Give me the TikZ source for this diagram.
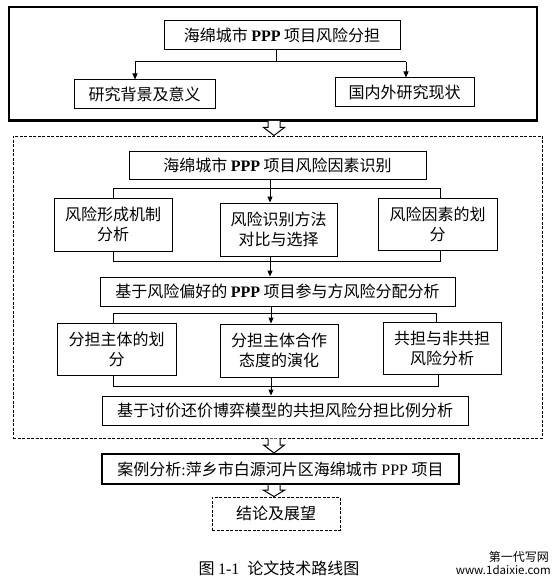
\documentclass[tikz,border=0pt]{standalone}
\usepackage{fontspec}
\setmainfont{Liberation Serif}
\newfontfamily\cjk{Noto Sans CJK SC}
\usetikzlibrary{arrows.meta,calc}
\newcommand\PPPb{{\rmfamily\bfseries PPP}}
\newcommand\PPPr{{\rmfamily PPP}}
\newcommand\hollowarrow[2]{%
  \draw[line width=1pt,fill=white] let \p1=(#1), \p2=(#2), \n1={\y1+0.45*(\y2-\y1)} in
    ({\x1-6pt},{\y1}) -- ({\x1-6pt},{\n1}) -- ({\x1-10.5pt},{\n1}) -- ({\x1},{\y2})
    -- ({\x1+10.5pt},{\n1}) -- ({\x1+6pt},{\n1}) -- ({\x1+6pt},{\y1});}
\begin{document}
\begin{tikzpicture}[x=1pt,y=-1pt,
  box/.style={draw,line width=1pt,inner sep=0pt,align=center,
    font=\cjk\fontsize{16}{20}\selectfont},
  arr/.style={line width=1pt,-{Triangle[length=6pt,width=5pt]}},
  ln/.style={line width=1pt},
  dsh/.style={dash pattern=on 3pt off 1.5pt}
]
\useasboundingbox (0,0) rectangle (557,583);
\fill[white] (0,0) rectangle (557,583);

% frames
\node[draw,line width=1.6pt,minimum width=528,minimum height=113,inner sep=0pt] (frameA) at (273,63.5) {};
\draw[line width=3pt] (frameA.south west) -- (frameA.south east);
\node[draw,dsh,line width=1pt,minimum width=529,minimum height=302,inner sep=0pt] (frameB) at (277.5,287) {};

% section 1
\node[box,minimum width=236,minimum height=29] (t1) at (282,35.5) {海绵城市 \PPPb{} 项目风险分担};
\node[box,minimum width=141,minimum height=29] (b1) at (144.5,94.5) {研究背景及意义};
\node[box,minimum width=139,minimum height=29] (b2) at (404.5,92.5) {国内外研究现状};
\coordinate (j1) at (276,62);
\coordinate (j1l) at (135,62);
\coordinate (j1r) at (406,62);
\draw[ln] (t1.south -| j1) -- (j1);
\draw[ln] (j1l) -- (j1r);
\draw[arr] (j1l) -- (j1l |- b1.north);
\draw[arr] (j1r) -- (j1r |- b2.north);

% section 2
\node[box,minimum width=297,minimum height=28] (t2) at (277.5,165) {海绵城市 \PPPb{} 项目风险因素识别};
\node[box,minimum width=118,minimum height=53] (r2a) at (113,224.5) {风险形成机制\\分析};
\node[box,minimum width=117,minimum height=53] (r2b) at (278.5,229.5) {风险识别方法\\对比与选择};
\node[box,minimum width=119,minimum height=52] (r2c) at (437.5,224) {风险因素的划\\分};
\coordinate (c2) at (270,188);
\coordinate (l2) at (113,188);
\coordinate (r2) at (440,188);
\coordinate (l2b) at (113,261);
\coordinate (r2bb) at (440,261);
\draw[ln] (l2 |- r2a.north) -- (l2) -- (r2) -- (r2 |- r2c.north);
\draw[arr] (t2.south -| c2) -- (r2b.north -| c2);
\draw[ln] (l2b |- r2a.south) -- (l2b) -- (r2bb) -- (r2bb |- r2c.south);

\node[box,minimum width=355,minimum height=29] (t3) at (277.5,291.5) {基于风险偏好的 \PPPb{} 项目参与方风险分配分析};
\draw[arr] (r2b.south -| c2) -- (t3.north -| c2);

\node[box,minimum width=119,minimum height=52] (r4a) at (116.5,349) {分担主体的划\\分};
\node[box,minimum width=118,minimum height=53] (r4b) at (279,350.5) {分担主体合作\\态度的演化};
\node[box,minimum width=118,minimum height=52] (r4c) at (442,348) {共担与非共担\\风险分析};
\coordinate (c4) at (271,313);
\coordinate (q4l) at (113,313);
\coordinate (q4r) at (436,313);
\coordinate (q4bl) at (113,386.5);
\coordinate (q4br) at (438,386.5);
\draw[ln] (q4l |- r4a.north) -- (q4l) -- (q4r) -- (q4r |- r4c.north);
\draw[arr] (t3.south -| c4) -- (r4b.north -| c4);
\draw[ln] (q4bl |- r4a.south) -- (q4bl) -- (q4br) -- (q4br |- r4c.south);

\node[box,minimum width=366,minimum height=29] (t5) at (285,410.5) {基于讨价还价博弈模型的共担风险分担比例分析};
\draw[arr] (r4b.south -| c4) -- (t5.north -| c4);

% section 3
\node[box,line width=2pt,minimum width=357,minimum height=30] (t6) at (280.5,469) {案例分析{\rmfamily :}萍乡市白源河片区海绵城市 \PPPr{} 项目};
\node[box,dsh,minimum width=128,minimum height=33] (t7) at (276,513.5) {结论及展望};

% hollow arrows
\coordinate (ax) at (274,0);
\coordinate (h1s) at (frameA.south -| ax);
\coordinate (h1e) at (frameB.north -| ax);
\hollowarrow{h1s}{h1e}
\coordinate (h2s) at (frameB.south -| ax);
\coordinate (h2e) at (t6.north -| ax);
\hollowarrow{h2s}{h2e}
\coordinate (h3s) at (t6.south -| ax);
\coordinate (h3e) at (t7.north -| ax);
\hollowarrow{h3s}{h3e}

% caption and watermark
\node[font=\cjk\fontsize{16}{20}\selectfont,inner sep=0pt] (cap) at (279,568) {图 {\rmfamily 1-1}\enspace 论文技术路线图};
\node[font=\cjk\fontsize{12}{14}\selectfont,inner sep=0pt,anchor=east] (wm1) at (549,557) {第一代写网};
\node[font=\cjk\fontsize{11.5}{14}\selectfont,inner sep=0pt,anchor=east] (wm2) at (551,570) {www.1daixie.com};
\end{tikzpicture}
\end{document}
